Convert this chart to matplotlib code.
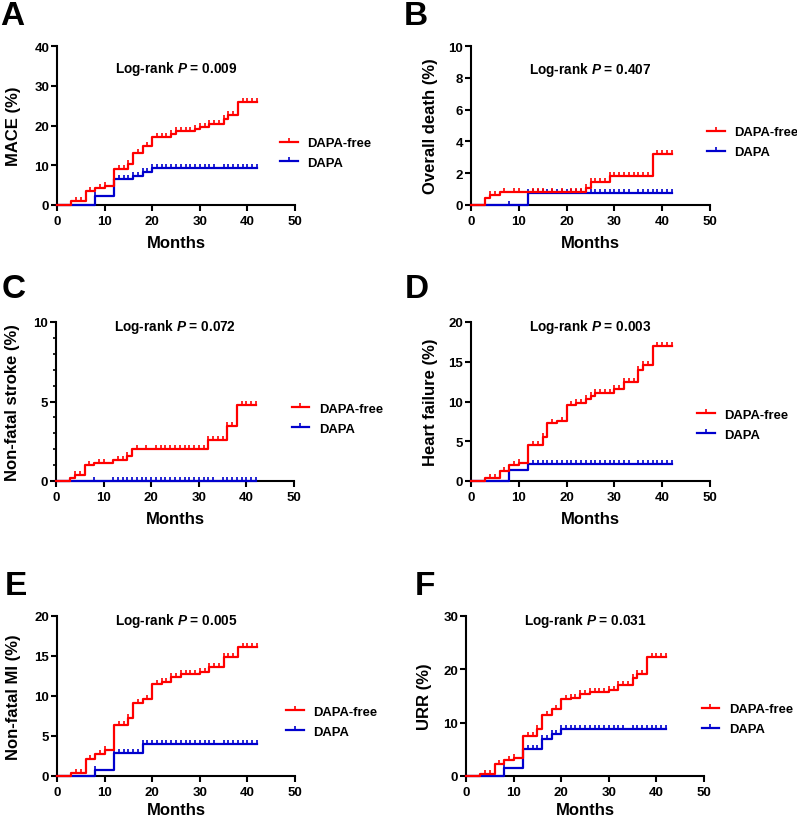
import numpy as np
import matplotlib
matplotlib.use("Agg")
import matplotlib.pyplot as plt
from matplotlib.lines import Line2D
from matplotlib.ticker import MultipleLocator

plt.rcParams['font.family'] = ['Liberation Sans', 'DejaVu Sans']
plt.rcParams['font.weight'] = 'bold'
plt.rcParams['mathtext.fontset'] = 'custom'
plt.rcParams['mathtext.rm'] = 'Liberation Sans:bold'
plt.rcParams['mathtext.it'] = 'Liberation Sans:italic:bold'

RED = '#FF0000'
BLUE = '#0000CD'

FOLLOW_UP = 42
groups = ['DAPA-free', 'DAPA']

# censoring times (months) for each arm
free_censor = [4, 5, 7, 9, 10, 13, 14, 15, 17, 19, 21, 22, 23, 24, 25, 26, 27, 28,
               29, 30, 31, 32, 33, 34, 35, 36, 37, 39, 40, 41, 42]
dapa_censor = [8, 12, 13, 14, 15, 16, 17, 18, 19, 20, 21, 22, 23, 24, 25, 26, 27,
               28, 29, 30, 31, 32, 33, 35, 36, 37, 38, 39, 40, 41, 42]

# A: MACE
mace_free_t = [3, 6, 8, 10, 12, 15, 16, 18, 20, 24, 25, 29, 30, 32, 35, 36, 38]
mace_free_y = [1.0, 3.5, 4.2, 4.7, 9.0, 10.4, 13.2, 14.8, 17.1, 17.9, 18.6, 19.2,
               19.6, 20.5, 21.7, 22.6, 25.8]
mace_dapa_t = [8, 12, 16, 18, 20]
mace_dapa_y = [2.2, 6.5, 7.3, 8.3, 9.3]

# B: overall death
death_free_t = [3, 4, 6, 24, 25, 29, 38]
death_free_y = [0.42, 0.63, 0.84, 1.1, 1.45, 1.83, 3.2]
death_dapa_t = [12]
death_dapa_y = [0.75]

# C: non-fatal stroke
stroke_free_t = [3, 4, 6, 8, 12, 15, 16, 32, 36, 38]
stroke_free_y = [0.2, 0.38, 1.0, 1.15, 1.3, 1.6, 2.0, 2.55, 3.45, 4.78]
stroke_dapa_t = []
stroke_dapa_y = []

# D: heart failure
hf_free_t = [3, 6, 8, 10, 12, 15, 16, 18, 20, 22, 24, 25, 26, 30, 32, 35, 36, 38]
hf_free_y = [0.4, 1.3, 1.95, 2.25, 4.5, 5.5, 7.25, 7.6, 9.5, 9.8, 10.35, 10.7, 11.05,
             11.55, 12.5, 13.95, 14.6, 16.95]
hf_dapa_t = [8, 12]
hf_dapa_y = [1.4, 2.15]

# E: non-fatal MI
mi_free_t = [3, 6, 8, 10, 12, 15, 16, 18, 20, 22, 24, 26, 30, 32, 35, 38]
mi_free_y = [0.35, 2.1, 2.7, 3.2, 6.4, 7.2, 9.1, 9.6, 11.5, 11.8, 12.4, 12.7, 13.05,
             13.6, 14.9, 16.1]
mi_dapa_t = [8, 12, 18]
mi_dapa_y = [0.75, 2.9, 4.0]

# F: URR
urr_free_t = [3, 6, 8, 10, 12, 15, 16, 18, 20, 22, 24, 26, 30, 32, 35, 36, 38]
urr_free_y = [0.45, 2.2, 3.0, 3.45, 7.5, 8.8, 11.4, 12.6, 14.4, 14.7, 15.4, 15.8,
              16.2, 17.1, 18.4, 19.2, 22.3]
urr_dapa_t = [8, 12, 16, 18, 20]
urr_dapa_y = [1.5, 5.0, 6.9, 7.8, 8.8]

panels = [
    # letter, ylabel, p, ymax, ystep, free, dapa, axes box (px), legend anchor, p y, ylabel x, xlabel y
    ('A', 'MACE (%)', '0.009', 40, 10, (mace_free_t, mace_free_y), (mace_dapa_t, mace_dapa_y),
     (57, 47, 295, 206), (0.937, 0.327), 0.862, -0.152, -0.19),
    ('B', 'Overall death (%)', '0.407', 10, 2, (death_free_t, death_free_y), (death_dapa_t, death_dapa_y),
     (471, 47, 710, 206), (0.987, 0.396), 0.855, -0.140, -0.19),
    ('C', 'Non-fatal stroke (%)', '0.072', 10, 5, (stroke_free_t, stroke_free_y), (stroke_dapa_t, stroke_dapa_y),
     (56, 323, 294, 482), (0.99, 0.393), 0.975, -0.150, -0.19),
    ('D', 'Heart failure (%)', '0.003', 20, 5, (hf_free_t, hf_free_y), (hf_dapa_t, hf_dapa_y),
     (471, 323, 710, 482), (0.946, 0.355), 0.975, -0.140, -0.19),
    ('E', 'Non-fatal MI (%)', '0.005', 20, 5, (mi_free_t, mi_free_y), (mi_dapa_t, mi_dapa_y),
     (57, 617, 295, 777), (0.962, 0.34), 0.975, -0.152, -0.165),
    ('F', 'URR (%)', '0.031', 30, 10, (urr_free_t, urr_free_y), (urr_dapa_t, urr_dapa_y),
     (466, 617, 704, 777), (0.99, 0.356), 0.975, -0.141, -0.165),
]

W, H = 797, 820
fig = plt.figure(figsize=(W / 100, H / 100), dpi=100)


def km_curve(ax, t, y, censor, color):
    tt = np.r_[0, t, FOLLOW_UP]
    yy = np.r_[0, y, y[-1] if len(y) else 0]
    ax.step(tt, yy, where='post', color=color, lw=1.6, clip_on=False, zorder=3)
    idx = np.searchsorted(tt, censor, side='right') - 1
    ax.plot(censor, yy[idx], ls='none', marker=2, ms=3.2, mew=1.2,
            color=color, clip_on=False, zorder=3)


for (letter, ylab, p, ymax, ystep, free, dapa, box, leg_xy, p_y, ylab_x, xlab_y) in panels:
    x0, y0, x1, y1 = box
    ax = fig.add_axes([x0 / W, 1 - y1 / H, (x1 - x0) / W, (y1 - y0) / H])
    km_curve(ax, dapa[0], dapa[1], dapa_censor, BLUE)
    km_curve(ax, free[0], free[1], free_censor, RED)

    ax.set_xlim(0, 50)
    ax.set_ylim(0, ymax)
    ax.xaxis.set_major_locator(MultipleLocator(10))
    ax.yaxis.set_major_locator(MultipleLocator(ystep))
    if letter == 'C':
        ax.yaxis.set_minor_locator(MultipleLocator(1))
        ax.tick_params(axis='y', which='minor', length=2.5, width=1.2)
    for s in ['top', 'right']:
        ax.spines[s].set_visible(False)
    for s in ['left', 'bottom']:
        ax.spines[s].set_linewidth(1.5)
    ax.tick_params(axis='both', which='major', length=4, width=1.5, labelsize=9.5)
    ax.tick_params(axis='y', pad=1.5)
    ax.tick_params(axis='x', pad=3.5)

    ax.set_xlabel('Months', fontsize=12, fontweight='bold')
    ax.xaxis.set_label_coords(0.5, xlab_y)
    ax.set_ylabel(ylab, fontsize=12, fontweight='bold')
    ax.yaxis.set_label_coords(ylab_x, 0.5)

    ax.text(0.5, p_y, 'Log-rank $P$ = ' + p, transform=ax.transAxes,
            ha='center', va='center', fontsize=9.8, fontweight='bold')

    handles = [Line2D([], [], color=RED, lw=1.6, marker=2, ms=3.2, mew=1.2),
               Line2D([], [], color=BLUE, lw=1.6, marker=2, ms=3.2, mew=1.2)]
    ax.legend(handles, groups, loc='center left', bbox_to_anchor=leg_xy,
              frameon=False, fontsize=9.4, handlelength=1.35, handletextpad=0.75,
              borderpad=0, borderaxespad=0, labelspacing=0.6, numpoints=1)

# panel letters
letters_pos = [('A', 12, 25), ('B', 416, 25), ('C', 14, 298),
               ('D', 417, 298), ('E', 16, 595), ('F', 425, 595)]
for lt, px, py in letters_pos:
    fig.text(px / W, 1 - py / H, lt, ha='center', va='baseline',
             fontsize=24, fontweight='bold')

fig.savefig('out.png', dpi=100)
